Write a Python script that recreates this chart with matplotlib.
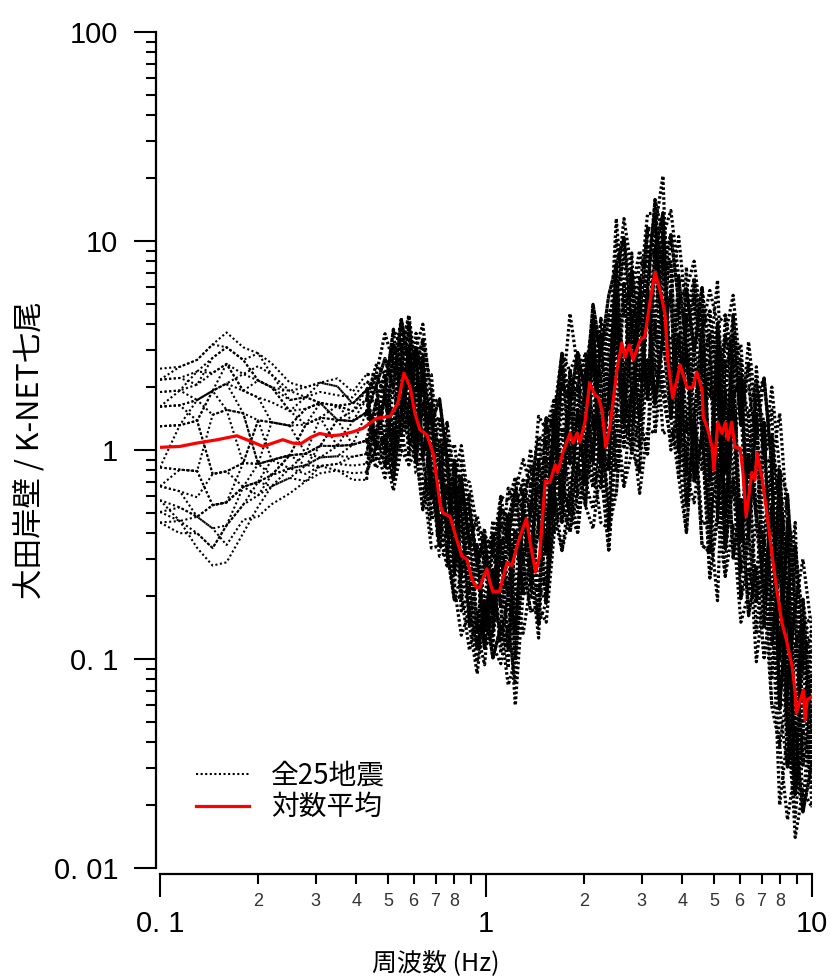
import matplotlib
matplotlib.use('Agg')
import matplotlib.pyplot as plt
import numpy as np
from matplotlib.ticker import FixedLocator, FixedFormatter

# 対数平均 (赤線)
mean_freq = [0.100, 0.115, 0.130, 0.150, 0.172, 0.190, 0.207, 0.238, 0.255, 0.270,
             0.290, 0.309, 0.335, 0.356, 0.390, 0.419, 0.445, 0.463, 0.508, 0.537,
             0.560, 0.585, 0.605, 0.627, 0.659, 0.690, 0.723, 0.738, 0.776, 0.810,
             0.844, 0.874, 0.906, 0.935, 0.958, 0.985, 1.007, 1.030, 1.050, 1.100,
             1.160, 1.200, 1.260, 1.330, 1.380, 1.420, 1.460, 1.520, 1.570, 1.630,
             1.660, 1.720, 1.810, 1.850, 1.900, 1.940, 2.010, 2.080, 2.160, 2.210,
             2.270, 2.330, 2.400, 2.520, 2.610, 2.670, 2.750, 2.830, 2.970, 3.070,
             3.180, 3.300, 3.420, 3.540, 3.610, 3.740, 3.940, 4.140, 4.310, 4.430,
             4.600, 4.640, 4.790, 4.940, 5.000, 5.140, 5.300, 5.420, 5.530, 5.670,
             5.810, 6.020, 6.140, 6.280, 6.540, 6.690, 6.780, 7.020, 7.270, 7.530,
             7.810, 8.080, 8.380, 8.690, 8.880, 8.950, 9.220, 9.410, 9.520, 9.670,
             10.00]
mean_ratio = [1.03, 1.04, 1.08, 1.12, 1.17, 1.10, 1.04, 1.12, 1.08, 1.07,
              1.15, 1.20, 1.17, 1.18, 1.22, 1.27, 1.36, 1.42, 1.45, 1.68,
              2.33, 2.00, 1.50, 1.25, 1.18, 0.95, 0.55, 0.50, 0.48, 0.38,
              0.31, 0.30, 0.24, 0.22, 0.22, 0.25, 0.27, 0.23, 0.21, 0.21,
              0.29, 0.28, 0.37, 0.47, 0.33, 0.26, 0.31, 0.71, 0.70, 0.85,
              0.78, 0.97, 1.20, 1.08, 1.20, 1.09, 1.35, 2.09, 1.83, 1.79,
              1.55, 1.03, 1.29, 2.40, 3.25, 2.78, 3.18, 2.70, 3.36, 3.48,
              5.05, 7.10, 5.80, 4.50, 2.70, 1.77, 2.55, 1.98, 2.00, 2.36,
              1.94, 1.44, 1.25, 1.03, 0.80, 1.35, 1.20, 1.35, 1.12, 1.36,
              1.03, 1.02, 0.78, 0.48, 0.78, 0.72, 0.97, 0.74, 0.50, 0.32,
              0.21, 0.15, 0.12, 0.092, 0.069, 0.055, 0.064, 0.071, 0.051, 0.064,
              0.066]

# 全25地震 (点線): 周波数と上限・中央・下限
grid_freq = [0.10, 0.115, 0.13, 0.145, 0.16, 0.18, 0.20, 0.22, 0.25, 0.28, 0.31, 0.35, 0.39, 0.43,
             0.46, 0.49, 0.52, 0.55, 0.58, 0.61, 0.64, 0.68, 0.72, 0.76,
             0.80, 0.84, 0.89, 0.94, 0.99, 1.05, 1.11, 1.17, 1.23, 1.30,
             1.37, 1.45, 1.53, 1.62, 1.71, 1.81, 1.91, 2.02, 2.13, 2.25,
             2.38, 2.51, 2.65, 2.80, 2.96, 3.13, 3.30, 3.49, 3.69, 3.90,
             4.12, 4.35, 4.60, 4.86, 5.13, 5.42, 5.73, 6.05, 6.39, 6.75,
             7.13, 7.53, 7.96, 8.41, 8.88, 9.38, 10.0]
env_upper = [2.45, 2.5, 2.7, 3.2, 3.65, 3.1, 2.9, 2.6, 2.1, 2.2, 2.3, 2.2, 1.9, 2.3,
             2.8, 3.6, 4.4, 4.75, 4.4, 4.2, 4.0, 2.6, 2.1, 1.6,
             1.25, 1.05, 0.7, 0.55, 0.42, 0.52, 0.6, 0.75, 0.85, 0.9,
             1.2, 1.45, 1.6, 2.0, 2.9, 4.5, 3.4, 4.0, 5.8, 5.0,
             5.5, 12.8, 12.8, 10.5, 9.0, 13.5, 18.0, 20.5, 14.0, 10.5,
             9.3, 8.0, 7.2, 5.8, 6.5, 5.4, 5.5, 3.2, 3.3, 2.5,
             2.7, 2.0, 1.5, 0.8, 0.45, 0.3, 0.18]
env_center = [1.03, 1.04, 1.08, 1.11, 1.14, 1.15, 1.06, 1.07, 1.10, 1.10, 1.20, 1.18, 1.22, 1.30,
              1.42, 1.44, 1.5, 2.0, 2.1, 1.45, 1.22, 1.05, 0.58, 0.49,
              0.40, 0.32, 0.27, 0.22, 0.25, 0.21, 0.22, 0.29, 0.32, 0.42,
              0.36, 0.29, 0.71, 0.82, 0.95, 1.2, 1.17, 1.4, 1.95, 1.62,
              1.2, 2.3, 2.9, 2.9, 3.3, 4.3, 7.0, 5.2, 2.1, 2.4,
              2.0, 2.1, 1.9, 1.15, 1.3, 1.3, 1.2, 0.95, 0.6, 0.85,
              0.65, 0.33, 0.18, 0.12, 0.07, 0.068, 0.066]
env_lower = [0.45, 0.40, 0.34, 0.28, 0.29, 0.40, 0.48, 0.55, 0.62, 0.66, 0.72, 0.75, 0.72, 0.72,
             0.75, 0.66, 0.64, 0.75, 0.85, 0.7, 0.45, 0.34, 0.28, 0.22,
             0.17, 0.13, 0.11, 0.085, 0.08, 0.09, 0.095, 0.075, 0.06, 0.11,
             0.15, 0.11, 0.15, 0.3, 0.33, 0.34, 0.34, 0.36, 0.42, 0.45,
             0.27, 0.5, 0.67, 0.62, 0.62, 0.75, 0.9, 1.2, 1.0, 0.45,
             0.31, 0.45, 0.35, 0.19, 0.19, 0.19, 0.17, 0.15, 0.13, 0.097,
             0.075, 0.045, 0.02, 0.017, 0.014, 0.015, 0.016]

# 各地震の位置 (0 = 下限, 9 = 上限)
quake_pos = [
    "99999998876555 7968579686 5797868579 6847968586 9786958697 5869786957 8697868",
    "21000012345566 3142031524 2031420315 2413021430 2143021532 1402315240 3124021",
    "88777666677788 6475864756 4867548675 3764857463 7584657486 3756485746 5847563",
    "00112234443333 2413524132 5342413524 1352413524 3142534213 5241352413 4253142",
    "77888877655444 5648574658 3756486574 5867456748 5647586574 6857465748 5764857",
    "33221100012222 4253426354 2635243625 3425364253 4625342635 2436524354 2635243",
    "66666777888999 7584658475 6475849576 4758465748 6957486574 8465748596 4758674",
    "44433322211111 3524635243 6524352463 5246352436 5243652435 2463524356 2435264",
    "55667788776655 6374857364 7583647584 6375846375 8463758463 7584637584 6375846",
    "34455544332233 5243625342 6352436253 4263524362 5342635243 6253426352 4362534",
    "88877665544556 8675968758 6975869786 5978697586 9785697586 7968579768 5978697",
    "22233344455544 1302413024 1320413024 1302314203 1402314023 1402413023 1420314",
    "66544332233445 4635746354 7463574635 4736457463 5746354736 4574635746 3574635",
    "55566677778877 6758576857 6758675867 5786758576 8675867586 7586758675 8675867",
    "12233445566677 2314231423 1432413241 3214231423 1432143214 3241324132 4132413",
    "77665544455667 3524536425 3645235426 3524635243 6524352463 5243625342 6354263",
    "45566554433344 4536274536 3645736254 4736253645 2637453647 5364725364 3547263",
    "66655443322100 5647386574 4756385647 6384756473 5748365746 4857364857 6473856",
    "11222333444555 3425134253 5243152435 4153425314 2534152435 3142534251 4352413",
    "89998877666555 6758476586 7485768475 8576948576 5867485769 6748576849 5768475",
    "33344455556666 5364527364 6453726453 4637254637 5364736452 6453746354 5637463",
    "44433333444455 4625374635 3546274635 5637264537 4635274635 3546375624 4635274",
    "55544455566677 3546154635 4625364153 3516425364 4625315463 3542635146 2534615",
    "67788899988877 7586947586 8675948675 7586958674 8697586947 7586947586 8675947",
    "01112223334444 2413052413 1304251403 2514031425 1304251304 2413052413 1403251",
]

y_major = [0.01, 0.1, 1, 10, 100]
y_major_labels = ['0. 01', '0. 1', '1', '10', '100']
x_major = [0.1, 1, 10]
x_major_labels = ['0. 1', '1', '10']
x_minor = [0.2, 0.3, 0.4, 0.5, 0.6, 0.7, 0.8, 0.9, 2, 3, 4, 5, 6, 7, 8, 9]
x_minor_labels = ['2', '3', '4', '5', '6', '7', '8', '', '2', '3', '4', '5', '6', '7', '8', '']

jp = ['Noto Sans CJK JP', 'DejaVu Sans']
num = ['Liberation Sans Narrow', 'Liberation Sans', 'DejaVu Sans']

fig = plt.figure(figsize=(8.31, 9.76), dpi=100)
ax = fig.add_axes([160/831, 108/976, 652/831, 836/976])

freq = np.array(grid_freq)
lu = np.log10(env_upper)
lc = np.log10(env_center)
ll = np.log10(env_lower)
lo = freq <= 0.46   # 低周波側: 細い点線
hi = freq >= 0.43   # 高周波側: 密な点線
for i, row in enumerate(quake_pos):
    d = np.array([int(c) for c in row.replace(' ', '')])
    t = (d - 4.5) / 4.5
    t = np.sign(t) * np.abs(t) ** 0.6
    v = 10 ** np.where(t > 0, lc + t * (lu - lc), lc + t * (lc - ll))
    ax.plot(freq[lo], v[lo], color='black', lw=1.5, dashes=(1, 1.2),
            label='全25地震' if i == 0 else None)
    ax.plot(freq[hi], v[hi], color='black', lw=2.3, dashes=(0.8, 0.75))

ax.plot(mean_freq, mean_ratio, color='red', lw=2.3, label='対数平均')

ax.set_xscale('log')
ax.set_yscale('log')
ax.set_xlim(0.1, 10)
ax.set_ylim(0.01, 100)

for s in ['top', 'right']:
    ax.spines[s].set_visible(False)
ax.spines['left'].set_position(('outward', 3))
ax.spines['bottom'].set_position(('outward', 4))
for s in ['left', 'bottom']:
    ax.spines[s].set_linewidth(1.6)

ax.yaxis.set_major_locator(FixedLocator(y_major))
ax.yaxis.set_major_formatter(FixedFormatter(y_major_labels))
ax.yaxis.set_minor_locator(FixedLocator([m * 10.0 ** e for e in range(-2, 2) for m in range(2, 10)]))
ax.yaxis.set_minor_formatter(FixedFormatter([]))
ax.xaxis.set_major_locator(FixedLocator(x_major))
ax.xaxis.set_major_formatter(FixedFormatter(x_major_labels))
ax.xaxis.set_minor_locator(FixedLocator(x_minor))
ax.xaxis.set_minor_formatter(FixedFormatter(x_minor_labels))

ax.tick_params(axis='y', which='major', length=16, width=1.5, pad=11, labelsize=21)
ax.tick_params(axis='y', which='minor', length=7, width=1.5)
ax.tick_params(axis='x', which='major', length=16.5, width=1.5, pad=10, labelsize=21)
ax.tick_params(axis='x', which='minor', length=7, width=1.5, pad=7, labelsize=13)
for lab in ax.get_xticklabels(which='both') + ax.get_yticklabels():
    lab.set_family(num)
for lab in ax.get_xticklabels(which='minor'):
    lab.set_color('#333333')

fig.text(30/831, 1 - 450/976, '大田岸壁 / K-NET七尾', rotation=90, ha='center', va='center',
         fontsize=22, family=jp)
fig.text(436/831, 1 - 950/976, '周波数 (Hz)', ha='center', va='top', fontsize=18, family=jp)

ax.legend(loc='upper left', bbox_to_anchor=(196/831, 1 - 761/976), bbox_transform=fig.transFigure,
          frameon=False, prop={'family': jp, 'size': 20}, handlelength=1.9, handletextpad=0.8,
          labelspacing=0.05, borderpad=0, borderaxespad=0)

fig.savefig('out.png', dpi=100)
